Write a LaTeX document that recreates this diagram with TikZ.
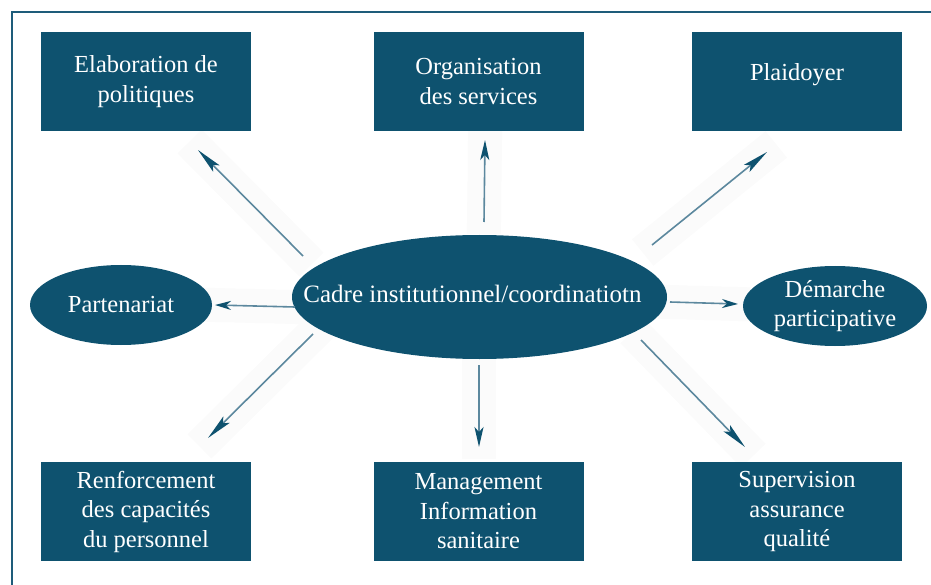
\documentclass[tikz,border=0pt]{standalone}
\usepackage{fontspec}
\setmainfont{Liberation Serif}
\usetikzlibrary{shapes.geometric,arrows.meta}
\definecolor{boxblue}{RGB}{14,82,111}
\definecolor{frameblue}{RGB}{30,92,122}
\definecolor{arrowblue}{RGB}{92,136,158}
\newcommand{\boxfont}{\fontsize{24.5}{29.5}\selectfont}
\begin{document}
\begin{tikzpicture}[x=1pt, y=-1pt,
    box/.style={rectangle, fill=boxblue, text=white, minimum width=210pt, minimum height=99pt, align=center, inner sep=0pt, font=\boxfont},
    oval/.style={ellipse, fill=boxblue, text=white, align=center, inner sep=0pt, font=\boxfont},
    glow/.style={line width=34pt, black!1.5, shorten <=-12pt, shorten >=-12pt},
    flow/.style={arrowblue, line width=1.6pt, -{Stealth[length=#1, width=9pt, inset=5pt, color=boxblue]}},
    flow/.default=20pt]
    \useasboundingbox (0,0) rectangle (931,585);
    \draw[frameblue, line width=2pt] (12,585) -- (12,12) -- (931,12);

    % arrow ends
    \coordinate (s1) at (303,256); \coordinate (e1) at (198,150);
    \coordinate (s2) at (484,222); \coordinate (e2) at (485,140);
    \coordinate (s3) at (652,245); \coordinate (e3) at (767,152);
    \coordinate (s4) at (295,307); \coordinate (e4) at (215,305);
    \coordinate (s5) at (670,302); \coordinate (e5) at (738,304);
    \coordinate (s6) at (313,334); \coordinate (e6) at (208,438);
    \coordinate (s7) at (479,365); \coordinate (e7) at (479,447);
    \coordinate (s8) at (641,340); \coordinate (e8) at (745,447);

    % faint band behind each arrow
    \draw[glow] (s1) -- (e1);
    \draw[glow] (s2) -- (e2);
    \draw[glow] (s3) -- (e3);
    \draw[glow] (s4) -- (e4);
    \draw[glow] (s5) -- (e5);
    \draw[glow] (s6) -- (e6);
    \draw[glow] (s7) -- (e7);
    \draw[glow] (s8) -- (e8);

    \node[box] (elab) at (146,81.5) {Elaboration de\\politiques};
    \node[box] (orga) at (478.5,81.5) {Organisation\\des services};
    \node[box, text depth=19pt] (plai) at (797,81.5) {Plaidoyer};
    \node[box] (renf) at (146,511.5) {Renforcement\\des capacités\\du personnel};
    \node[box] (mana) at (478.5,511.5) {Management\\Information\\sanitaire};
    \node[box] (supe) at (797,511.5) {Supervision\\assurance\\qualité};

    \node[oval, minimum width=375pt, minimum height=124pt,
        label={[text=white, font=\fontsize{25}{30}\selectfont, xshift=-7pt, yshift=3pt]center:Cadre institutionnel/coordinatiotn}] (cadre) at (479.5,297) {};
    \node[oval, minimum width=182pt, minimum height=80pt] (part) at (121,305) {Partenariat};
    \node[oval, minimum width=184pt, minimum height=80pt] (dema) at (835,306) {Démarche\\participative};

    \draw[flow=26pt] (s1) -- (e1);
    \draw[flow] (s2) -- (e2);
    \draw[flow=26pt] (s3) -- (e3);
    \draw[flow=16pt] (s4) -- (e4);
    \draw[flow=16pt] (s5) -- (e5);
    \draw[flow=26pt] (s6) -- (e6);
    \draw[flow] (s7) -- (e7);
    \draw[flow=26pt] (s8) -- (e8);
\end{tikzpicture}
\end{document}
